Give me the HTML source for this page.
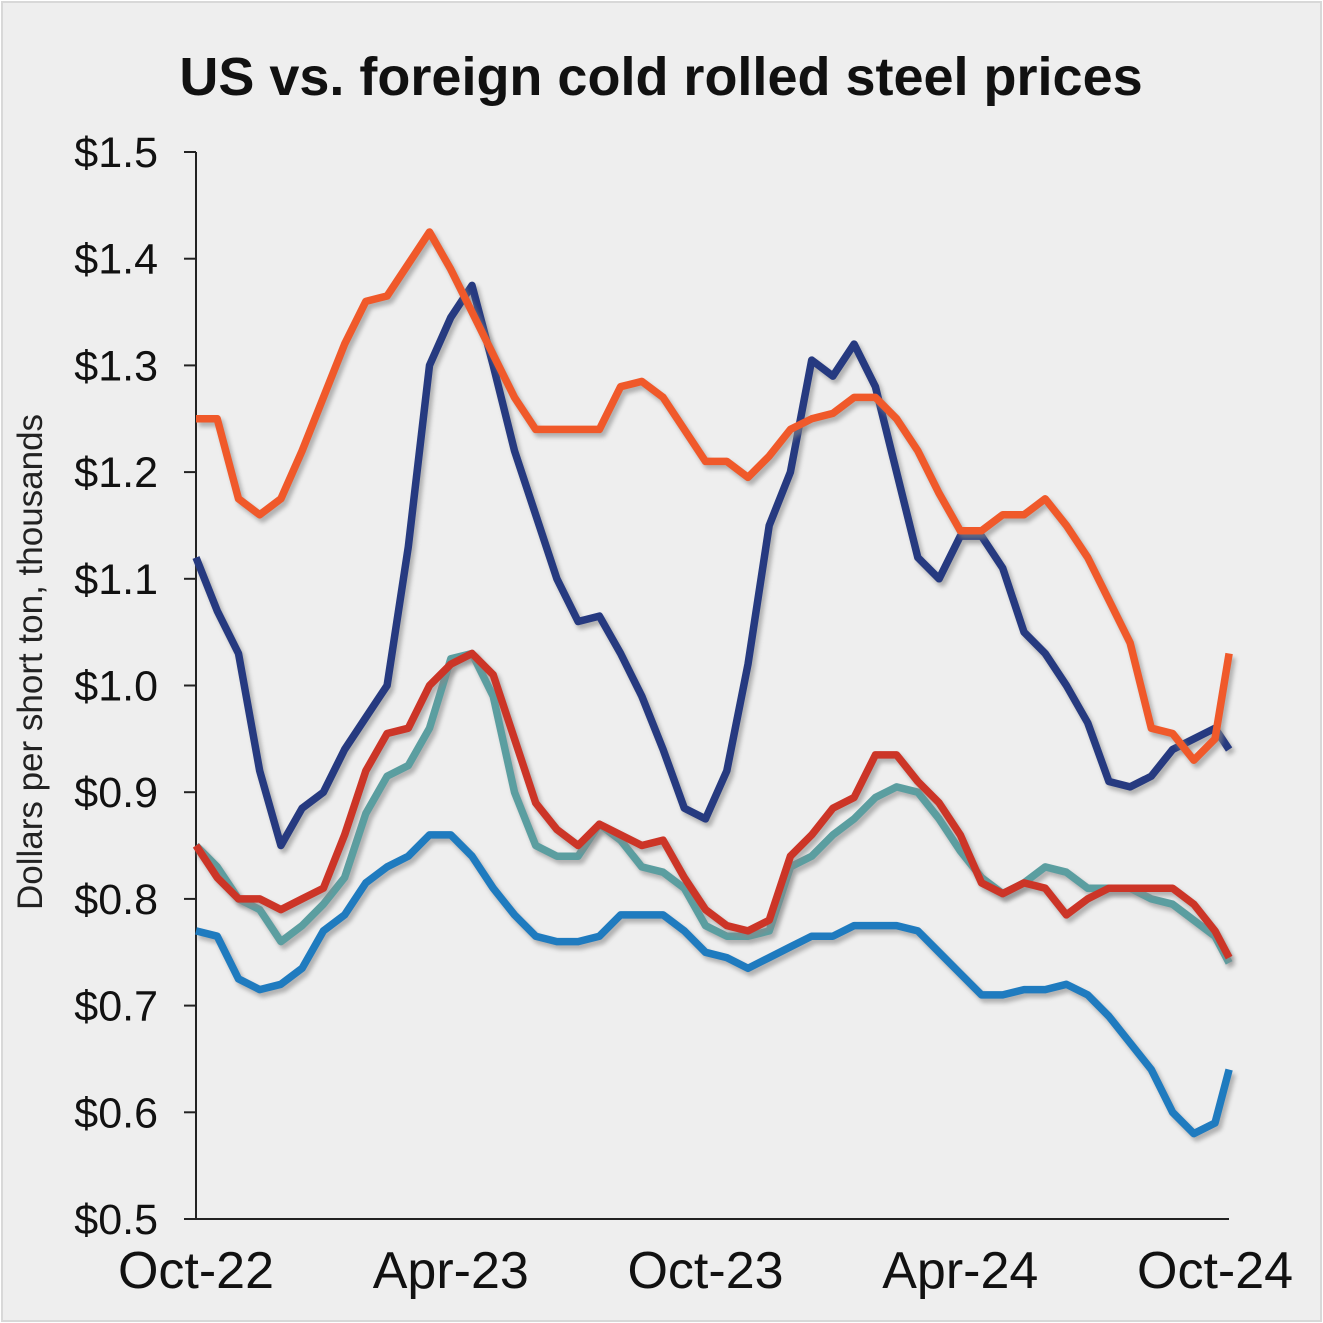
<!DOCTYPE html>
<html><head><meta charset="utf-8"><style>
html,body{margin:0;padding:0;background:#fff;}
svg{display:block;font-family:"Liberation Sans",Arial,sans-serif;}
</style></head><body>
<svg id="chart" width="1323" height="1323" viewBox="0 0 1323 1323">
<defs><filter id="sh" x="-5%" y="-5%" width="110%" height="110%"><feGaussianBlur stdDeviation="2"/></filter></defs>
<rect x="2" y="2" width="1319" height="1319" fill="#eeeeee" stroke="#d8d8d8" stroke-width="2"/>
<text x="661" y="95" text-anchor="middle" font-size="54" font-weight="bold" fill="#111">US vs. foreign cold rolled steel prices</text>
<text transform="translate(42,662) rotate(-90)" text-anchor="middle" font-size="35" fill="#222">Dollars per short ton, thousands</text>
<g id="axes"></g>
<g id="series"></g>
</svg>
<script>
const months=[0,0.5,1,1.5,2,2.5,3,3.5,4,4.5,5,5.5,6,6.5,7,7.5,8,8.5,9,9.5,10,10.5,11,11.5,12,12.5,13,13.5,14,14.5,15,15.5,16,16.5,17,17.5,18,18.5,19,19.5,20,20.5,21,21.5,22,22.5,23,23.5,24,24.33];
const orangeVals=[1.25,1.25,1.175,1.16,1.175,1.22,1.27,1.32,1.36,1.365,1.395,1.425,1.39,1.35,1.31,1.27,1.24,1.24,1.24,1.24,1.28,1.285,1.27,1.24,1.21,1.21,1.195,1.215,1.24,1.25,1.255,1.27,1.27,1.25,1.22,1.18,1.145,1.145,1.16,1.16,1.175,1.15,1.12,1.08,1.04,0.96,0.955,0.93,0.95,1.03];
const navyVals=[1.12,1.07,1.03,0.92,0.85,0.885,0.9,0.94,0.97,1.0,1.13,1.3,1.345,1.375,1.3,1.22,1.16,1.1,1.06,1.065,1.03,0.99,0.94,0.885,0.875,0.92,1.02,1.15,1.2,1.305,1.29,1.32,1.28,1.2,1.12,1.1,1.14,1.14,1.11,1.05,1.03,1.0,0.965,0.91,0.905,0.915,0.94,0.95,0.96,0.94];
const redVals=[0.85,0.82,0.8,0.8,0.79,0.8,0.81,0.86,0.92,0.955,0.96,1.0,1.02,1.03,1.01,0.95,0.89,0.865,0.85,0.87,0.86,0.85,0.855,0.82,0.79,0.775,0.77,0.78,0.84,0.86,0.885,0.895,0.935,0.935,0.91,0.89,0.86,0.815,0.805,0.815,0.81,0.785,0.8,0.81,0.81,0.81,0.81,0.795,0.77,0.745];
const tealVals=[0.85,0.83,0.8,0.79,0.76,0.775,0.795,0.82,0.88,0.915,0.925,0.96,1.025,1.03,0.99,0.9,0.85,0.84,0.84,0.87,0.855,0.83,0.825,0.81,0.775,0.765,0.765,0.77,0.83,0.84,0.86,0.875,0.895,0.905,0.9,0.875,0.845,0.82,0.805,0.815,0.83,0.825,0.81,0.81,0.81,0.8,0.795,0.78,0.765,0.74];
const blueVals=[0.77,0.765,0.725,0.715,0.72,0.735,0.77,0.785,0.815,0.83,0.84,0.86,0.86,0.84,0.81,0.785,0.765,0.76,0.76,0.765,0.785,0.785,0.785,0.77,0.75,0.745,0.735,0.745,0.755,0.765,0.765,0.775,0.775,0.775,0.77,0.75,0.73,0.71,0.71,0.715,0.715,0.72,0.71,0.69,0.665,0.64,0.6,0.58,0.59,0.64];
const yTicks=[0.5,0.6,0.7,0.8,0.9,1.0,1.1,1.2,1.3,1.4,1.5];
const xTickMonths=[0,6,12,18,24];
const xTickLabels=["Oct-22","Apr-23","Oct-23","Apr-24","Oct-24"];

const NS="http://www.w3.org/2000/svg";
const X0=196,XPM=42.46,Y0=1219,YPU=1067;
const xs=m=>X0+m*XPM;
const ys=v=>Y0-(v-0.5)*YPU;
const axes=document.getElementById('axes');
function mk(tag,at,parent){const e=document.createElementNS(NS,tag);for(const k in at)e.setAttribute(k,at[k]);parent.appendChild(e);return e;}

const yAxis=mk('line',{x1:X0,y1:152,x2:X0,y2:Y0,stroke:'#222','stroke-width':2},axes);


const xAxis=mk('line',{x1:X0,y1:Y0,x2:1229,y2:Y0,stroke:'#222','stroke-width':2},axes);


yTicks.forEach(v=>{
  const t=mk('line',{x1:X0-12,y1:ys(v),x2:X0,y2:ys(v),stroke:'#222','stroke-width':2},axes);
  
  
  const l=mk('text',{x:158,y:ys(v)+15,'text-anchor':'end','font-size':43,fill:'#111'},axes);
  l.textContent='$'+v.toFixed(1);
  
  
});
xTickMonths.forEach((m,i)=>{
  const l=mk('text',{x:xs(m),y:1288,'text-anchor':'middle','font-size':52,fill:'#111'},axes);
  l.textContent=xTickLabels[i];
  
  
});

const g=document.getElementById('series');
const series=[["blue-series",blueVals,"#1f7bbf"],["teal-series",tealVals,"#5b9ea0"],["red-series",redVals,"#cc3527"],["navy-series",navyVals,"#263a80"],["orange-series",orangeVals,"#f0592a"]];
series.forEach(([name,vals,col])=>{
  const d=vals.map((v,i)=>(i?'L':'M')+xs(months[i]).toFixed(1)+','+ys(v).toFixed(1)).join(' ');
  const s=mk('path',{d:d,fill:'none',stroke:'#888','stroke-width':8,'stroke-linejoin':'round',opacity:0.6,transform:'translate(3,4)',filter:'url(#sh)'},g);
  
  
  const p=mk('path',{d:d,fill:'none',stroke:col,'stroke-width':7.5,'stroke-linejoin':'round'},g);
  
  
});
</script>
</body></html>
